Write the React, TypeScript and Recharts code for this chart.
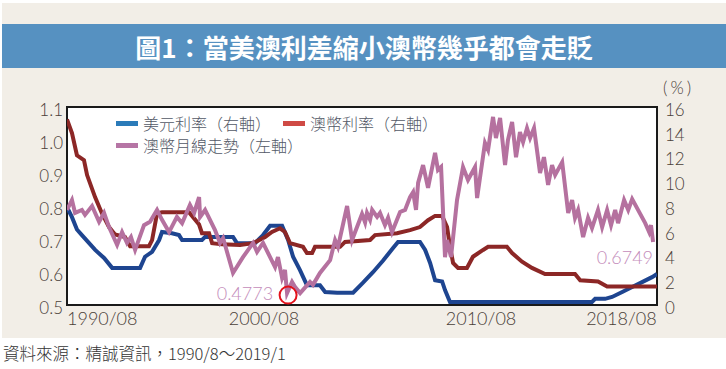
import { LineChart, Line, XAxis, YAxis, ReferenceDot } from "recharts";

// dates are decimal years (1990.58 = 1990/08)
const usdRateDates = [
  1990.58, 1990.82, 1991.06, 1991.3, 1991.94, 1992.37, 1992.76, 1994.11, 1994.35, 1994.69,
  1995.03, 1995.17, 1995.65, 1995.99, 1996.14, 1997.1, 1997.25, 1998.6, 1998.79, 1999.66,
  2000.05, 2000.39, 2000.97, 2001.26, 2001.5, 2001.84, 2002.17, 2002.8, 2003.05, 2003.63,
  2004.4, 2004.88, 2005.36, 2005.85, 2006.33, 2006.57, 2007.63, 2007.88, 2008.12, 2008.36,
  2008.7, 2008.84, 2009.08, 2015.94, 2016.09, 2016.57, 2016.91, 2017.4, 2017.88, 2018.36,
  2018.84, 2019.08,
];
const usdRate = [
  7.9, 7.1, 6.1, 5.65, 4.45, 3.8, 3.0, 3.0, 3.9, 4.3,
  5.25, 5.9, 5.8, 5.65, 5.25, 5.25, 5.5, 5.5, 5.0, 5.0,
  5.65, 6.4, 6.4, 5.25, 3.9, 2.8, 1.6, 1.6, 1.05, 1.0,
  1.0, 1.8, 2.65, 3.6, 4.6, 5.1, 5.1, 4.45, 3.4, 2.0,
  1.9, 1.2, 0.25, 0.25, 0.5, 0.5, 0.65, 1.05, 1.45, 1.85,
  2.25, 2.5,
];

const audRateDates = [
  1990.58, 1990.82, 1991.06, 1991.4, 1991.55, 1991.94, 1992.27, 1992.61, 1992.9, 1993.38,
  1993.63, 1994.54, 1994.69, 1994.93, 1995.17, 1996.47, 1996.72, 1996.96, 1997.1, 1997.44,
  1997.59, 1998.07, 1998.94, 1999.57, 2000.15, 2000.48, 2000.87, 2001.11, 2001.35, 2001.98,
  2002.17, 2002.42, 2002.56, 2003.77, 2004.01, 2005.22, 2005.46, 2006.52, 2007.15, 2007.63,
  2008.02, 2008.36, 2008.7, 2008.94, 2009.08, 2009.23, 2009.47, 2009.9, 2010.19, 2010.68,
  2010.92, 2011.83, 2012.08, 2012.56, 2013.04, 2013.67, 2015.12, 2015.37, 2016.23, 2016.67,
  2019.08,
];
const audRate = [
  15.0, 13.9, 12.1, 11.7, 10.5, 8.7, 7.4, 6.3, 5.7, 5.5,
  4.75, 4.75, 5.25, 7.4, 7.5, 7.5, 7.0, 6.5, 5.8, 5.8,
  5.0, 4.9, 4.85, 5.0, 5.5, 5.9, 6.2, 5.9, 5.0, 4.7,
  4.2, 4.2, 4.7, 4.7, 5.1, 5.25, 5.65, 5.8, 6.05, 6.3,
  6.85, 7.2, 7.2, 6.3, 4.7, 3.4, 3.0, 3.0, 3.9, 4.45,
  4.7, 4.7, 4.2, 3.5, 3.0, 2.5, 2.5, 2.0, 1.9, 1.5,
  1.5,
];

const audUsdDates = [
  1990.58, 1990.82, 1990.97, 1991.3, 1991.45, 1991.79, 1992.13, 1992.37, 1992.61, 1993.0,
  1993.24, 1993.48, 1993.67, 1993.87, 1994.3, 1994.59, 1994.93, 1995.17, 1995.51, 1995.89,
  1996.14, 1996.52, 1996.72, 1996.96, 1997.01, 1997.25, 1997.73, 1997.97, 1998.12, 1998.6,
  1999.08, 1999.57, 1999.76, 2000.05, 2000.39, 2000.63, 2000.77, 2000.97, 2001.11, 2001.21,
  2001.45, 2001.59, 2001.84, 2002.32, 2002.46, 2002.8, 2003.29, 2003.53, 2003.67, 2004.11,
  2004.35, 2004.83, 2004.98, 2005.07, 2005.22, 2005.32, 2005.56, 2005.7, 2005.94, 2006.09,
  2006.28, 2006.67, 2006.91, 2007.15, 2007.3, 2007.44, 2007.54, 2007.78, 2008.02, 2008.36,
  2008.5, 2008.65, 2008.84, 2008.94, 2009.13, 2009.42, 2009.71, 2009.95, 2010.29, 2010.39,
  2010.77, 2010.92, 2011.16, 2011.3, 2011.5, 2011.74, 2011.88, 2012.08, 2012.27, 2012.46,
  2012.61, 2012.8, 2012.95, 2013.14, 2013.43, 2013.62, 2013.82, 2014.01, 2014.16, 2014.5,
  2014.79, 2014.98, 2015.12, 2015.27, 2015.51, 2015.75, 2015.94, 2016.23, 2016.43, 2016.67,
  2016.86, 2017.06, 2017.2, 2017.49, 2017.69, 2017.88, 2018.51, 2018.7, 2018.79, 2018.89,
];
const audUsd = [
  0.788, 0.818, 0.779, 0.788, 0.773, 0.8, 0.752, 0.779, 0.736, 0.682,
  0.721, 0.688, 0.706, 0.667, 0.742, 0.752, 0.788, 0.758, 0.721, 0.767,
  0.748, 0.803, 0.779, 0.827, 0.767, 0.788, 0.727, 0.688, 0.703, 0.597,
  0.645, 0.688, 0.661, 0.688, 0.645, 0.615, 0.645, 0.582, 0.606, 0.536,
  0.57, 0.555, 0.536, 0.57, 0.561, 0.597, 0.636, 0.697, 0.676, 0.8,
  0.697, 0.776, 0.75, 0.779, 0.758, 0.788, 0.767, 0.779, 0.742, 0.764,
  0.721, 0.782, 0.788, 0.827, 0.842, 0.788, 0.87, 0.924, 0.855, 0.961,
  0.909, 0.918, 0.645, 0.697, 0.645, 0.818, 0.918, 0.879, 0.918, 0.824,
  0.991, 0.97, 1.07, 1.006, 1.067, 0.924, 1.0, 1.055, 0.948, 1.024,
  0.994, 1.036, 1.006, 1.036, 0.9, 0.948, 0.864, 0.924, 0.894, 0.933,
  0.779, 0.818, 0.764, 0.788, 0.706, 0.764, 0.733, 0.788, 0.736, 0.788,
  0.742, 0.788, 0.748, 0.818, 0.788, 0.821, 0.748, 0.721, 0.742, 0.691,
];

const leftTicks = [0.5, 0.6, 0.7, 0.8, 0.9, 1.0, 1.1];
const rightTicks = [0, 2, 4, 6, 8, 10, 12, 14, 16];
const xTicks = [1990.58, 2000.58, 2010.58, 2018.58];
const xTickLabels = ["1990/08", "2000/08", "2010/08", "2018/08"];

const seriesNames = ["美元利率（右軸）", "澳幣利率（右軸）", "澳幣月線走勢（左軸）"];
const lowPoint = { t: 2001.26, v: 0.53, label: "0.4773" };
const lastPoint = { t: 2018.89, v: 0.691, label: "0.6749" };

const title = "圖1：當美澳利差縮小澳幣幾乎都會走貶";
const source = "資料來源：精誠資訊，1990/8～2019/1";

const toRows = (ts: number[], vs: number[]) => ts.map((t, i) => ({ t, v: vs[i] }));
const usdRows = toRows(usdRateDates, usdRate);
const audRateRows = toRows(audRateDates, audRate);
const audUsdRows = toRows(audUsdDates, audUsd);

const tickFont = "Lato, 'Noto Sans', sans-serif";
const tickColor = "#4a4038";
const swatchColors = ["#2b7bb9", "#cf4a45", "#b675a5"];

const XTick = (props: any) => {
  const { x, y, index } = props;
  const last = xTicks.length - 1;
  const anchor = index === 0 ? "start" : index === last ? "end" : "middle";
  const dx = index === last ? 10 : index === 1 ? -10 : 0;
  return (
    <text x={x + dx} y={y + 20} textAnchor={anchor} fontSize={18} fontWeight={300}
      fontFamily={tickFont} fill={tickColor}>
      {xTickLabels[index]}
    </text>
  );
};

const YTick = (props: any) => {
  const { x, y, payload, orientation } = props;
  const isLeft = orientation === "left";
  return (
    <text x={x} y={y + 3} dy="0.35em" textAnchor={isLeft ? "end" : "start"} fontSize={17}
      fontWeight={300} fontFamily={tickFont} fill={tickColor}>
      {isLeft ? Number(payload.value).toFixed(1) : payload.value}
    </text>
  );
};

const LowMark = (props: any) => {
  const { cx, cy } = props;
  return (
    <g>
      <circle cx={cx} cy={cy} r={8.5} fill="none" stroke="#e3121c" strokeWidth={2} />
      <text x={cx - 15} y={cy + 5} textAnchor="end" fontSize={18} fontWeight={300}
        fontFamily={tickFont} fill="#c48cba">
        {lowPoint.label}
      </text>
    </g>
  );
};

const LastMark = (props: any) => {
  const { cx, cy } = props;
  return (
    <text x={cx} y={cy + 22} textAnchor="end" fontSize={18} fontWeight={300}
      fontFamily={tickFont} fill="#c48cba">
      {lastPoint.label}
    </text>
  );
};

export default function App() {
  return (
    <div style={{ position: "fixed", left: 0, top: 0, width: 726, height: 369, background: "#fff", overflow: "hidden" }}>
      <div style={{ position: "absolute", left: 2, top: 3, width: 724, height: 335, background: "#f2eee7" }} />
      <div
        style={{
          position: "absolute", left: 2, top: 24, width: 724, height: 44, background: "#5691c1",
          color: "#fff", display: "flex", alignItems: "center", justifyContent: "center",
          fontFamily: "'Noto Sans CJK TC', sans-serif", fontWeight: 700, fontSize: 26,
        }}
      >
        {title}
      </div>
      <div
        style={{
          position: "absolute", left: 66, top: 106, width: 592, height: 200, background: "#fff",
          border: "2px solid #1a1a1a", boxSizing: "border-box",
        }}
      />
      <div style={{ position: "absolute", left: 0, top: 0 }}>
        <LineChart width={726} height={369} margin={{ top: 107, right: 0, bottom: 34, left: 7 }}>
          <XAxis dataKey="t" type="number" domain={[1990.58, 2019.08]} ticks={xTicks} allowDataOverflow
            axisLine={false} tickLine={false} tickSize={0} tickMargin={0} height={30} tick={<XTick />} />
          <YAxis yAxisId="left" domain={[0.5, 1.1]} ticks={leftTicks} width={60} axisLine={false}
            tickLine={false} tickSize={0} tickMargin={4} tick={<YTick />} />
          <YAxis yAxisId="right" orientation="right" domain={[0, 16]} ticks={rightTicks} width={69}
            axisLine={false} tickLine={false} tickSize={0} tickMargin={8} tick={<YTick />} />
          <Line yAxisId="right" data={usdRows} dataKey="v" name={seriesNames[0]} type="linear"
            stroke="#1e4590" strokeWidth={4} dot={false} isAnimationActive={false} />
          <Line yAxisId="right" data={audRateRows} dataKey="v" name={seriesNames[1]} type="linear"
            stroke="#8c2726" strokeWidth={4} dot={false} isAnimationActive={false} />
          <Line yAxisId="left" data={audUsdRows} dataKey="v" name={seriesNames[2]} type="linear"
            stroke="#b5719f" strokeWidth={4} dot={false} isAnimationActive={false} />
          <ReferenceDot yAxisId="left" x={lowPoint.t} y={lowPoint.v} shape={<LowMark />} />
          <ReferenceDot yAxisId="left" x={lastPoint.t} y={lastPoint.v} shape={<LastMark />} />
        </LineChart>
      </div>
      <div style={{ position: "absolute", left: 116, top: 112, width: 340, display: "flex", flexWrap: "wrap" }}>
        {seriesNames.map((name, i) => (
          <div key={name} style={{ display: "flex", alignItems: "center", height: 22, marginRight: 12 }}>
            <span style={{ display: "inline-block", width: 22, height: 5, background: swatchColors[i], marginRight: 5 }} />
            <span style={{ fontFamily: "'Noto Sans CJK TC', sans-serif", fontSize: 16, color: "#525866", fontWeight: 300 }}>
              {name}
            </span>
          </div>
        ))}
      </div>
      <div style={{ position: "absolute", left: 663, top: 77, fontFamily: tickFont, fontWeight: 300, fontSize: 17, color: tickColor, letterSpacing: 3 }}>
        (%)
      </div>
      <div style={{ position: "absolute", left: 3, top: 341, fontFamily: "'Noto Sans CJK TC', sans-serif", fontWeight: 300, fontSize: 16.5, color: "#333" }}>
        {source}
      </div>
    </div>
  );
}
